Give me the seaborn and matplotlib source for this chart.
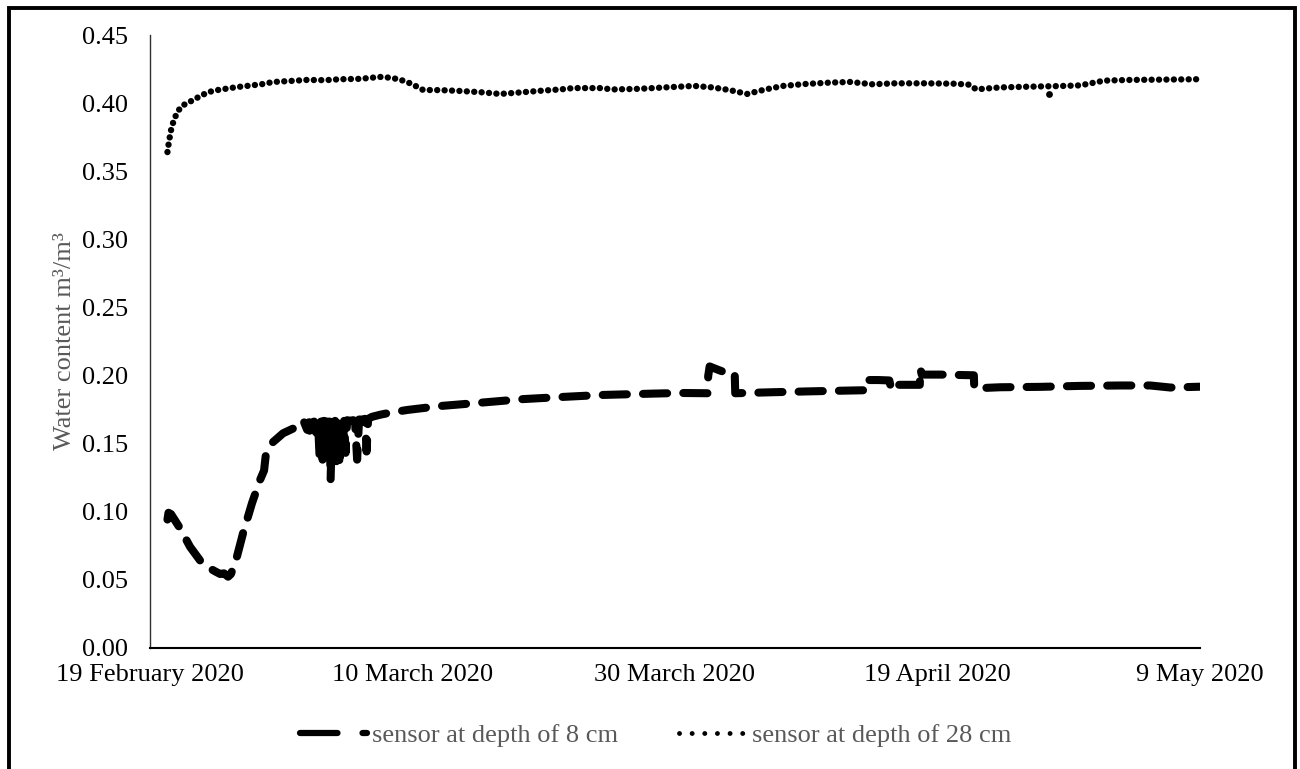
import numpy as np
import pandas as pd
import matplotlib
matplotlib.use("Agg")
import matplotlib.pyplot as plt
from matplotlib.lines import Line2D
from matplotlib.patches import Rectangle
from matplotlib.ticker import FormatStrFormatter
import seaborn as sns

START = pd.Timestamp("2020-02-19")

# Sensor at 8 cm depth: elapsed days since 19 Feb 2020 and water content (m3/m3)
days_8cm = [
    1.33, 1.41, 1.60, 2.29, 3.05, 4.04, 4.95, 5.34, 5.64, 5.95, 6.17, 6.63, 7.09,
    7.77, 8.38, 8.69, 8.84, 9.38, 10.14, 11.20,
    11.36, 11.59, 11.74, 11.97, 12.12, 12.20, 12.31, 12.50, 12.65, 12.80, 12.92,
    13.03, 13.15, 13.26, 13.38, 13.49, 13.57, 13.68, 13.76, 13.87, 13.99, 14.10,
    14.21, 14.33, 14.44, 14.56, 14.67, 14.79, 14.90, 15.02, 15.24, 15.47, 15.62,
    15.78, 15.93, 16.16, 16.39, 16.50, 16.62, 16.92,
    17.53, 18.29, 19.59, 22.10, 24.62, 28.43, 31.25, 34.30, 38.19, 40.40,
    42.49, 42.53, 42.64, 43.29, 43.98, 44.55, 44.59,
    47.26, 50.30, 53.35, 54.46, 54.50, 55.49, 56.33, 56.48, 56.71, 56.86, 57.93,
    58.65, 58.69, 58.80, 60.21, 61.74, 62.77, 62.80,
    64.79, 67.84, 70.88, 73.93, 76.22, 77.74, 80.00,
]
vwc_8cm = [
    0.094, 0.099, 0.098, 0.0876, 0.074, 0.061, 0.056, 0.054, 0.0545, 0.052, 0.054,
    0.067, 0.084, 0.106, 0.123, 0.130, 0.143, 0.151, 0.1574, 0.1622,
    0.165, 0.1635, 0.1655, 0.160, 0.1655, 0.1537, 0.165, 0.166, 0.158, 0.166, 0.140,
    0.166, 0.138, 0.1665, 0.142, 0.166, 0.145, 0.166, 0.123, 0.165, 0.148, 0.1665,
    0.136, 0.166, 0.133, 0.166, 0.141, 0.1665, 0.143, 0.167, 0.1665, 0.167, 0.1665,
    0.138, 0.1675, 0.1675, 0.168, 0.144, 0.168, 0.1695,
    0.171, 0.1725, 0.1745, 0.1774, 0.1794, 0.1825, 0.184, 0.1855, 0.1865, 0.187,
    0.1868, 0.1995, 0.2065, 0.204, 0.2015, 0.2015, 0.1868,
    0.1875, 0.1882, 0.1888, 0.189, 0.1965, 0.1965, 0.1962, 0.1895, 0.1895, 0.193, 0.193,
    0.193, 0.2051, 0.2005, 0.2005, 0.2002, 0.200, 0.1904,
    0.1912, 0.1915, 0.1922, 0.1925, 0.1925, 0.191, 0.1916,
]

# Sensor at 28 cm depth
days_28cm = [
    1.33, 1.45, 1.60, 1.83, 2.13, 2.44, 3.05, 3.81, 4.42, 5.11, 6.10, 6.86, 7.77,
    8.61, 9.38, 10.67, 11.97, 13.34, 14.48, 16.01, 17.53, 18.45, 19.28, 19.82,
    20.35, 20.81, 22.10, 23.40, 25.15, 26.68, 28.20, 29.73, 31.25, 32.24, 34.30,
    35.29, 37.35, 39.25, 41.46, 42.84, 44.13, 45.50, 46.88, 48.25, 49.92, 51.75,
    53.35, 55.03, 56.78, 59.15, 61.36, 62.42, 62.96, 63.49, 64.79, 66.77, 69.36,
    70.88, 72.71, 74.70, 76.98, 79.80, 80.00,
]
vwc_28cm = [
    0.364, 0.372, 0.380, 0.388, 0.394, 0.398, 0.401, 0.405, 0.408, 0.4095, 0.411,
    0.412, 0.413, 0.414, 0.4155, 0.4162, 0.417, 0.4168, 0.4175, 0.4178, 0.4192,
    0.4185, 0.4165, 0.4145, 0.412, 0.4096, 0.4095, 0.409, 0.408, 0.4067, 0.4078,
    0.409, 0.410, 0.411, 0.411, 0.410, 0.4105, 0.4115, 0.4126, 0.4115, 0.4096,
    0.4067, 0.410, 0.4126, 0.414, 0.415, 0.4155, 0.4138, 0.4145, 0.4145, 0.4142,
    0.4135, 0.410, 0.4105, 0.4115, 0.412, 0.4125, 0.413, 0.4165, 0.417, 0.4172,
    0.4175, 0.4175,
]
outlier_days_28cm = [68.52]
outlier_vwc_28cm = [0.4067]

series_labels = ["sensor at depth of 8 cm", "sensor at depth of 28 cm"]
tick_days = [0, 20, 40, 60, 80]
tick_labels = ["19 February 2020", "10 March 2020", "30 March 2020",
               "19 April 2020", "9 May 2020"]
y_ticks = [0.00, 0.05, 0.10, 0.15, 0.20, 0.25, 0.30, 0.35, 0.40, 0.45]


def to_dates(days):
    return START + pd.to_timedelta(np.asarray(days, dtype=float), unit="D")


sns.set_theme(style="white")
plt.rcParams["font.family"] = ["Liberation Serif", "DejaVu Serif"]

fig = plt.figure(figsize=(13, 7.69), dpi=100)
ax = fig.add_axes([150 / 1300, 1 - 647.5 / 769, 1050 / 1300, (647.5 - 35) / 769])

df8 = pd.DataFrame({"date": to_dates(days_8cm), "vwc": vwc_8cm})
df28 = pd.DataFrame({"date": to_dates(days_28cm), "vwc": vwc_28cm})
df_out = pd.DataFrame({"date": to_dates(outlier_days_28cm), "vwc": outlier_vwc_28cm})

sns.lineplot(data=df8, x="date", y="vwc", ax=ax, color="black", linewidth=5.8,
             linestyle=(0, (3.0, 2.0)), dash_capstyle="round",
             dash_joinstyle="round", estimator=None, sort=False)
sns.lineplot(data=df28, x="date", y="vwc", ax=ax, color="black", linewidth=4.6,
             linestyle=(0, (0.01, 1.15)), dash_capstyle="round",
             estimator=None, sort=False)
sns.scatterplot(data=df_out, x="date", y="vwc", ax=ax, color="black", s=24,
                linewidth=0)

ax.set_xlim(to_dates([0])[0], to_dates([80])[0])
ax.set_ylim(0, 0.45)
ax.set_xticks(to_dates(tick_days))
ax.set_xticklabels(tick_labels)
ax.set_yticks(y_ticks)
ax.yaxis.set_major_formatter(FormatStrFormatter("%.2f"))

ax.tick_params(axis="x", direction="in", length=7, width=1, color="black",
               pad=12, labelsize=19, labelcolor="black")
ax.tick_params(axis="y", length=0, pad=16, labelsize=19, labelcolor="black")

ax.set_xlabel("")
ax.set_ylabel("Water content m³/m³", fontsize=19, color="#595959")
ax.yaxis.set_label_coords(-0.0708, 0.5)

sns.despine(ax=ax)
ax.spines["left"].set_color("#303030")
ax.spines["left"].set_linewidth(1.0)
ax.spines["bottom"].set_color("black")
ax.spines["bottom"].set_linewidth(1.5)

handles = [
    Line2D([], [], color="black", linewidth=4.5, linestyle=(0, (6.0, 4.0)),
           dash_capstyle="round"),
    Line2D([], [], color="black", linewidth=3.5, linestyle=(0, (0.01, 2.59)),
           dash_capstyle="round"),
]
leg = fig.legend(handles, series_labels, loc="center", ncol=2, frameon=False,
                 bbox_to_anchor=(0.5042, 0.0442), fontsize=19,
                 handlelength=2.57, handletextpad=0.19, columnspacing=2.3,
                 borderpad=0, borderaxespad=0)
for t in leg.get_texts():
    t.set_color("#595959")

# frame around the whole chart area
fig.add_artist(Rectangle((9 / 1300, -0.1), (1295 - 9) / 1300, (1 - 8 / 769) + 0.1,
                         transform=fig.transFigure, fill=False, edgecolor="black",
                         linewidth=2.8, clip_on=False))

fig.savefig("out.png", dpi=100)
